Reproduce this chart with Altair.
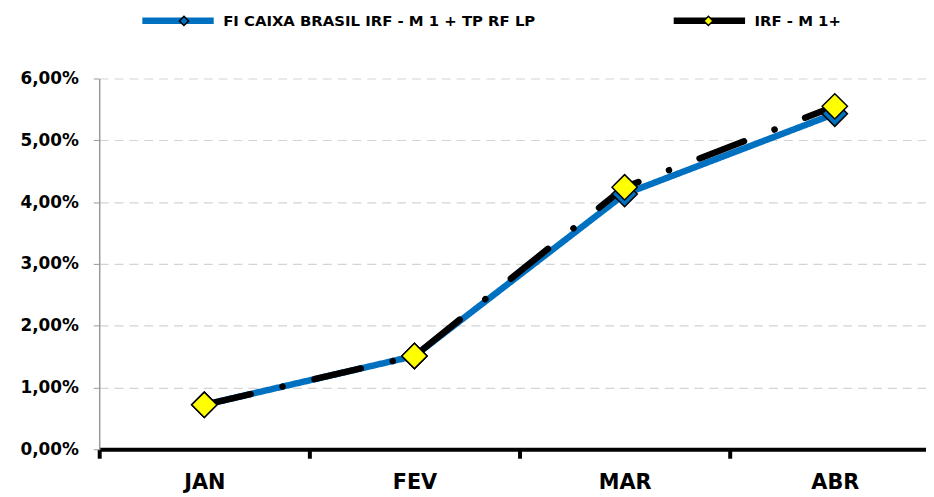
import altair as alt
import pandas as pd

months = ["JAN", "FEV", "MAR", "ABR"]
series_names = ["FI CAIXA BRASIL IRF - M 1 + TP RF LP", "IRF - M 1+"]
fundo = [0.72, 1.51, 4.13, 5.43]
indice = [0.72, 1.51, 4.24, 5.55]
y_ticks = [0, 1, 2, 3, 4, 5, 6]

rows = []
for m, v in zip(months, fundo):
    rows.append({"mes": m, "serie": series_names[0], "serie_p": series_names[0], "valor": v})
for m, v in zip(months, indice):
    rows.append({"mes": m, "serie": series_names[1], "serie_p": series_names[1], "valor": v})
df = pd.DataFrame(rows)

FONT = "DejaVu Sans"
BLUE = "#0070C0"

x_enc = alt.X("mes:N", sort=months, title=None,
              scale=alt.Scale(range=[0, 848], paddingInner=0, paddingOuter=0),
              axis=alt.Axis(labelAngle=0, grid=False, domainColor="black", domainWidth=4,
                            tickColor="black", tickWidth=4, tickSize=9, tickBand="extent",
                            labelFont=FONT, labelFontWeight="bold", labelFontSize=21,
                            labelColor="black", labelPadding=14))
y_enc = alt.Y("valor:Q", title=None,
              scale=alt.Scale(domain=[0, 6], nice=False, zero=True),
              axis=alt.Axis(values=y_ticks, labelExpr="replace(format(datum.value, '.2f'), '.', ',') + '%'",
                            domainColor="#9a9a9a", domainWidth=1.5, tickColor="#9a9a9a", tickSize=6,
                            grid=True, gridColor="#D4D4D4", gridDash=[9, 6], gridWidth=1.2,
                            labelFont=FONT, labelFontWeight="bold", labelFontSize=17,
                            labelColor="black", labelPadding=15))

LEG_X = 40
LEG_Y = -98
line_path = "M-1,0H1"
diamond_path = "M-1,0M1,0M0,-0.12L0.12,0L0,0.12L-0.12,0Z"

lines = alt.Chart(df).mark_line(strokeWidth=6.5, strokeCap="round", strokeJoin="round").encode(
    x=x_enc, y=y_enc,
    stroke=alt.Stroke("serie:N", sort=series_names,
                      scale=alt.Scale(domain=series_names, range=[BLUE, "black"]),
                      legend=alt.Legend(title=None, orient="none", direction="horizontal",
                                        legendX=LEG_X, legendY=LEG_Y,
                                        symbolType=line_path, symbolSize=72 * 72,
                                        symbolStrokeWidth=6.5,
                                        labelFont=FONT, labelFontWeight="bold", labelFontSize=15,
                                        labelColor="black", labelLimit=600, labelOffset=6,
                                        columnPadding=125, padding=0, offset=0)),
    strokeDash=alt.StrokeDash("serie:N", sort=series_names,
                              scale=alt.Scale(domain=series_names, range=[[1, 0], [48, 33, 0.1, 33]]),
                              legend=None),
    order=alt.Order("serie:N"),
)

points = alt.Chart(df).mark_point(shape="diamond", filled=True, size=650, stroke="black",
                                  strokeWidth=1.5, opacity=1).encode(
    x=x_enc, y=y_enc,
    fill=alt.Fill("serie_p:N", sort=series_names,
                  scale=alt.Scale(domain=series_names, range=[BLUE, "#FFFF00"]),
                  legend=alt.Legend(title=None, orient="none", direction="horizontal",
                                    legendX=LEG_X + 6, legendY=LEG_Y,
                                    symbolType=diamond_path, symbolSize=77.5 * 77.5,
                                    symbolStrokeColor="black", symbolStrokeWidth=1.5,
                                    labelExpr="''", labelOffset=6,
                                    columnPadding=441, padding=0, offset=0)),
)

chart = alt.layer(lines, points).resolve_legend(stroke="independent", fill="independent").properties(
    width=826, height=374,
    autosize=alt.AutoSizeParams(type="none"),
    padding={"left": 92, "top": 69, "right": 8, "bottom": 46},
).configure(background="white").configure_view(stroke=None)

chart.save("out.html", embed_options={"renderer": "svg", "actions": False})
